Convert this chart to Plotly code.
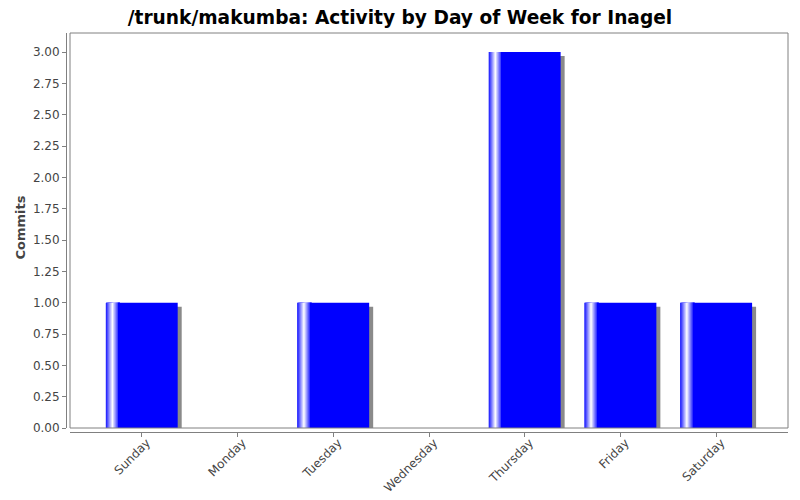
import plotly.graph_objects as go

days = ["Sunday", "Monday", "Tuesday", "Wednesday", "Thursday", "Friday", "Saturday"]
commits = [1, 0, 1, 0, 3, 1, 1]
y_ticks = [0, 0.25, 0.5, 0.75, 1.0, 1.25, 1.5, 1.75, 2.0, 2.25, 2.5, 2.75, 3.0]

title = "/trunk/makumba: Activity by Day of Week for Inagel"
y_title = "Commits"

# the page body has an 8px margin, so the figure is 8px smaller and everything shifted
FW, FH = 792, 492
L, R, T, B = 52, 12, 25, 60
W, H = FW - L - R, FH - T - B
xdom0 = (62 - L) / W
ydom0 = ((FH - B) - 420) / H
yrange = [0, 3.152]
xrange = [-0.75, 6.75]

bar_w = 0.75
px_x = (xrange[1] - xrange[0]) / (W * (1 - xdom0))
px_y = (yrange[1] - yrange[0]) / (H * (1 - ydom0))

fig = go.Figure()

# shadow
fig.add_trace(go.Bar(
    x=days, y=[c - 4 * px_y for c in commits],
    width=bar_w, offset=-bar_w / 2 + 4 * px_x,
    marker=dict(color="#8a8a8a", line=dict(width=0)),
    hoverinfo="skip", showlegend=False
))

# main bars
fig.add_trace(go.Bar(
    x=days, y=commits,
    width=bar_w, offset=-bar_w / 2,
    marker=dict(color="#0000ff", line=dict(width=0)),
    showlegend=False
))

# gradient highlight on the left part of each bar (overlapping stripes)
def blend(t):
    v = int(round(255 * t))
    return f"rgb({v},{v},255)"

n = 14
for i in range(n):
    if i < 7:
        t = 0.15 + 0.85 * i / 6
    else:
        t = 1 - (i - 6) / 7
    fig.add_trace(go.Bar(
        x=days, y=commits,
        width=px_x * (n - i), offset=-bar_w / 2 + i * px_x,
        marker=dict(color=blend(max(0, min(1, t))), line=dict(width=0)),
        hoverinfo="skip", showlegend=False
    ))

axis_font = dict(family="DejaVu Sans", size=12, color="#444444")

fig.update_layout(
    width=FW, height=FH,
    barmode="overlay",
    plot_bgcolor="white", paper_bgcolor="white",
    margin=dict(l=L, r=R, t=T, b=B, autoexpand=False),
    title=dict(text=title, x=392 / FW, xanchor="center", y=1 - 9.5 / FH, yanchor="middle",
               font=dict(family="DejaVu Sans", size=18.6, color="black", weight="bold")),
    xaxis=dict(
        domain=[xdom0, 1], anchor="free", position=((FH - B) - 424) / H,
        range=xrange, showgrid=False, zeroline=False, automargin=False,
        showline=True, linecolor="#808080", linewidth=1,
        ticks="outside", ticklen=4, tickcolor="#808080",
        tickangle=-45, tickfont=axis_font,
        ticklabelshift=5, ticklabelstandoff=-6,
    ),
    yaxis=dict(
        domain=[ydom0, 1], anchor="free", position=(58 - L) / W,
        range=yrange, showgrid=False, zeroline=False, automargin=False,
        showline=True, linecolor="#808080", linewidth=1,
        ticks="outside", ticklen=4, tickcolor="#808080",
        tickvals=y_ticks, tickformat=".2f", tickfont=axis_font,
    ),
    annotations=[dict(text=y_title, xref="paper", yref="paper",
                      x=(11.5 - L) / W, y=((FH - B) - 220) / H,
                      xanchor="center", yanchor="middle", textangle=-90, showarrow=False,
                      font=dict(family="DejaVu Sans", size=13, color="#444444", weight="bold"))],
    shapes=[dict(type="rect", xref="paper", yref="paper",
                 x0=xdom0, x1=1, y0=ydom0, y1=1,
                 line=dict(color="#808080", width=1), layer="above")],
)

fig.write_html("out.html")
